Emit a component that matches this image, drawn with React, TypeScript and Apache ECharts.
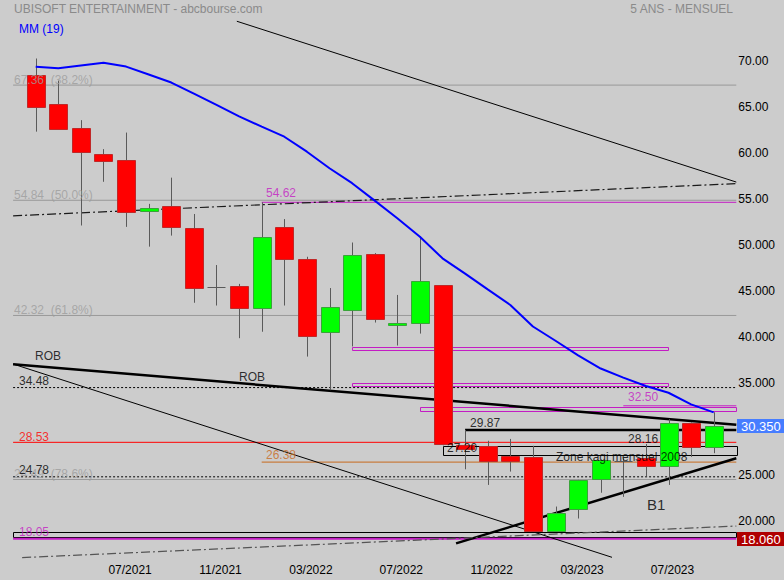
import React, { useEffect, useRef } from "react";
import * as echarts from "echarts";

// Category axis: one padding month on each side of the 31 monthly candles
const months = [
  "02/2021", "03/2021", "04/2021", "05/2021", "06/2021", "07/2021", "08/2021", "09/2021", "10/2021", "11/2021", "12/2021",
  "01/2022", "02/2022", "03/2022", "04/2022", "05/2022", "06/2022", "07/2022", "08/2022", "09/2022", "10/2022", "11/2022", "12/2022",
  "01/2023", "02/2023", "03/2023", "04/2023", "05/2023", "06/2023", "07/2023", "08/2023", "09/2023", "10/2023",
];
const shownMonths = ["07/2021", "11/2021", "03/2022", "07/2022", "11/2022", "03/2023", "07/2023"];

// Monthly OHLC, 03/2021 .. 09/2023
const opens = [68.45, 65.3, 62.65, 59.85, 59.2, 53.6, 54.2, 51.8, 45.45, 45.5, 43.1, 51.9, 48.45, 40.5, 42.9, 48.95, 41.5, 41.45, 45.6, 28.2, 28.15, 27.05, 26.9, 18.9, 21.25, 24.55, 26.45, 26.8, 25.9, 30.65, 28.1];
const closes = [64.95, 62.55, 60.05, 59.05, 53.6, 53.95, 51.9, 45.25, 45.45, 43.1, 50.8, 48.4, 40.1, 43.25, 48.85, 41.9, 41.55, 46.05, 28.35, 27.75, 26.55, 26.55, 18.9, 20.9, 24.45, 26.6, 26.45, 25.9, 30.6, 28.0, 30.35];
const highs = [70.25, 67.85, 63.55, 60.4, 62.2, 54.45, 57.3, 53.35, 47.8, 45.75, 54.62, 52.8, 48.7, 45.3, 50.25, 49.1, 44.55, 50.9, 45.6, 29.87, 28.7, 28.9, 28.15, 21.55, 24.45, 26.65, 26.8, 28.35, 31.05, 30.7, 31.8];
const lows = [62.3, 62.55, 52.1, 56.85, 51.95, 49.8, 51.0, 43.7, 43.4, 39.85, 40.55, 43.4, 37.85, 34.2, 38.95, 41.55, 39.05, 40.35, 28.2, 25.6, 23.9, 25.35, 18.8, 18.8, 20.25, 23.05, 22.6, 24.85, 23.9, 26.95, 27.35];

// MM (19)
const ma19 = [69.36, 69.18, 69.49, 69.79, 69.37, 68.51, 67.64, 66.43, 65.2, 63.97, 62.84, 61.75, 60.12, 58.32, 56.7, 54.8, 52.88, 50.88, 48.53, 46.87, 45.15, 43.46, 41.12, 39.57, 37.98, 36.55, 35.56, 34.65, 33.92, 32.66, 31.79];

// Fibonacci retracements
const fibLevels = [67.36, 54.84, 42.32, 24.49];
const fibTexts = ["67.36  (38.2%)", "54.84  (50.0%)", "42.32  (61.8%)", "24.49  (78.6%)"];

// Horizontal levels (value, start index on the month axis)
const dottedLevels = [34.48, 24.78];
const redLevel = 28.53;
const magentaLevel = 18.05;
const orangeLevel = 26.38;
const orangeStart = 11;
const highLevel = 54.62;
const highStart = 11;
const level3250 = 32.5;
const level3250Start = 27;
const level2987 = 29.87;
const level2987Start = 20;

// Trend lines [monthIndex, value]
const robThick = [[0, 37.02], [32, 30.44]];
const robThin = [[0, 37.04], [26.5, 16.03]];
const lineB1 = [[19.6, 17.55], [32, 26.8]];
const lineTop = [[9.9, 74.3], [32, 56.82]];
const channelUp = [[0, 53.15], [32, 56.65]];
const channelLow = [[0.4, 16.0], [32, 19.43]];

// Zones [x0, x1, low, high]
const blackZones = [[0, 32, 18.25, 18.75], [19, 32, 27.2, 28.16]];
const magentaZones = [[15, 29, 38.6, 38.93], [15, 29, 34.62, 34.95], [18, 32, 31.85, 32.33]];

// Price tags on the right axis
const priceTags = [30.35, 18.06];
const priceTagColors = ["#467dff", "#b00000"];

// Annotations [monthIndex, value, text]
const blackNotes = [
  [0.97, 37.91, "ROB"],
  [10.0, 35.68, "ROB"],
  [0.26, 35.2, "34.48"],
  [0.26, 25.52, "24.78"],
  [20.22, 30.63, "29.87"],
  [19.2, 27.91, "27.20"],
  [27.21, 28.89, "28.16"],
  [24.02, 26.94, "Zone kagi mensuel 2008"],
];
const b1Note = [28.05, 21.72, "B1"];
const redNotes = [[0.26, 29.16, "28.53"]];
const magentaNotes = [[0.26, 18.78, "18.05"], [11.19, 55.58, "54.62"], [27.21, 33.46, "32.50"]];
const orangeNotes = [[11.19, 27.15, "26.38"]];

const FONT = "'Liberation Sans', Arial, sans-serif";
const MAGENTA = "#c41cc4";
const ORANGE = "#c86a1e";

export default function App() {
  const ref = useRef<HTMLDivElement>(null);
  useEffect(() => {
    if (!ref.current) return;
    const chart = echarts.init(ref.current, undefined, { renderer: "svg" });

    const candleData = opens.map((o, i) => [i + 1, o, closes[i], lows[i], highs[i]]);
    const maData = ma19.map((v, i) => [i + 1, v]);

    const seg = (pts: number[][], color: string, width: number, type: any, z = 2) => ({
      type: "line",
      xAxisIndex: 1,
      yAxisIndex: 0,
      data: pts,
      symbol: "none",
      silent: true,
      z,
      lineStyle: { color, width, type },
    });
    const hline = (v: number, x0: number, color: string, width: number, type: any) =>
      seg([[x0, v], [32, v]], color, width, type);

    const zones = (list: number[][], color: string) => ({
      type: "custom",
      xAxisIndex: 1,
      yAxisIndex: 0,
      silent: true,
      z: 2,
      data: list,
      renderItem: (params: any, api: any) => {
        const a = api.coord([api.value(0), api.value(3)]);
        const b = api.coord([api.value(1), api.value(2)]);
        return {
          type: "rect",
          shape: { x: Math.round(a[0]) + 0.5, y: Math.round(a[1]) + 0.5, width: Math.round(b[0] - a[0]), height: Math.round(b[1] - a[1]) },
          style: { fill: "none", stroke: color, lineWidth: 1 },
        };
      },
    });

    const notes = (list: any[], color: string, size: number) => ({
      type: "scatter",
      xAxisIndex: 1,
      yAxisIndex: 0,
      symbolSize: 0,
      silent: true,
      z: 10,
      data: list.map((n) => ({ value: [n[0], n[1]], name: n[2] })),
      label: {
        show: true,
        position: "right",
        distance: 0,
        formatter: (p: any) => p.name,
        color,
        fontSize: size,
        fontFamily: FONT,
      },
    });

    const series: any[] = [];
    fibLevels.forEach((v) => series.push(hline(v, 0, "#999999", 1, "solid")));
    series.push(notes(fibLevels.map((v, i) => [0.04, v + 0.6, fibTexts[i]]), "#9c9c9c", 12));
    dottedLevels.forEach((v) => series.push(hline(v, 0, "#000000", 1, [2, 2])));
    series.push(hline(redLevel, 0, "#ff0000", 1, "solid"));
    series.push(hline(magentaLevel, 0, MAGENTA, 2, "solid"));
    series.push(hline(orangeLevel, orangeStart, ORANGE, 1, "solid"));
    series.push(hline(highLevel, highStart, MAGENTA, 1, "solid"));
    series.push(hline(level3250, level3250Start, MAGENTA, 1, "solid"));
    series.push(hline(level2987, level2987Start, "#000000", 2.5, "solid"));
    series.push(seg(robThick, "#000000", 2.5, "solid"));
    series.push(seg(robThin, "#000000", 1, "solid"));
    series.push(seg(lineB1, "#000000", 2.5, "solid"));
    series.push(seg(lineTop, "#000000", 1, "solid"));
    series.push(seg(channelUp, "#1a1a1a", 1.2, [9, 3, 2, 3]));
    series.push(seg(channelLow, "#555555", 1.2, [9, 3, 2, 3]));
    series.push(zones(blackZones, "#000000"));
    series.push(zones(magentaZones, MAGENTA));

    series.push({
      type: "custom",
      xAxisIndex: 0,
      yAxisIndex: 0,
      z: 5,
      silent: true,
      data: candleData,
      encode: { x: 0, y: [1, 2, 3, 4] },
      renderItem: (params: any, api: any) => {
        const x = api.value(0);
        const o = api.value(1);
        const c = api.value(2);
        const l = api.value(3);
        const h = api.value(4);
        const pO = api.coord([x, o]);
        const pC = api.coord([x, c]);
        const pL = api.coord([x, l]);
        const pH = api.coord([x, h]);
        const cx = Math.round(pO[0]) + 0.5;
        const w = 18;
        const children: any[] = [
          { type: "line", shape: { x1: cx, y1: pH[1], x2: cx, y2: pL[1] }, style: { stroke: "#5a5a5a", lineWidth: 1 } },
        ];
        if (o === c) {
          children.push({ type: "line", shape: { x1: cx - w / 2, y1: Math.round(pO[1]) + 0.5, x2: cx + w / 2, y2: Math.round(pO[1]) + 0.5 }, style: { stroke: "#5a5a5a", lineWidth: 1 } });
        } else {
          const up = c > o;
          const top = Math.min(pO[1], pC[1]);
          const hgt = Math.max(Math.abs(pO[1] - pC[1]), 2);
          children.push({
            type: "rect",
            shape: { x: cx - w / 2, y: Math.round(top) + 0.5, width: w, height: Math.round(hgt) },
            style: { fill: up ? "#00ff00" : "#ff0000", stroke: up ? "#3aa33a" : "#c02828", lineWidth: 1 },
          });
        }
        return { type: "group", children };
      },
    });

    series.push({
      type: "line",
      xAxisIndex: 0,
      yAxisIndex: 0,
      data: maData,
      symbol: "none",
      silent: true,
      z: 6,
      lineStyle: { color: "#0000ff", width: 2 },
    });

    series.push(notes(blackNotes, "#000000", 12));
    series.push(notes([b1Note], "#000000", 15));
    series.push(notes(redNotes, "#ff0000", 12));
    series.push(notes(magentaNotes, MAGENTA, 12));
    series.push(notes(orangeNotes, ORANGE, 12));

    chart.setOption({
      animation: false,
      backgroundColor: "#cccccc",
      grid: { left: 13.1, right: 47.7, top: 0, bottom: 13.2, containLabel: false },
      xAxis: [
        {
          type: "category",
          data: months,
          boundaryGap: false,
          axisLine: { show: false },
          axisTick: { show: false },
          splitLine: { show: false },
          axisLabel: {
            interval: (idx: number) => shownMonths.includes(months[idx]),
            color: "#000000",
            fontSize: 12,
            fontFamily: FONT,
            margin: -3,
            padding: [0, 0, 0, 8],
          },
        },
        { type: "value", min: 0, max: 32, show: false },
      ],
      yAxis: [
        {
          type: "value",
          position: "right",
          min: 15,
          max: 76.61,
          interval: 5,
          axisLine: { show: false },
          axisTick: { show: false },
          splitLine: { show: false },
          axisLabel: {
            showMaxLabel: false,
            color: "#000000",
            fontSize: 12,
            fontFamily: FONT,
            margin: 2,
            padding: [0, 0, 6, 0],
            formatter: (v: number) => (v < 20 || v > 70 || v === 30 ? "" : v >= 55 ? v.toFixed(2) : v.toFixed(3)),
          },
        },
      ],
      graphic: [
        { type: "text", x: 14, y: 9, style: { text: "UBISOFT ENTERTAINMENT - abcbourse.com", fill: "#8a8a8a", font: `12px ${FONT}`, textVerticalAlign: "middle" } },
        { type: "text", x: 733, y: 9, style: { text: "5 ANS - MENSUEL", fill: "#8a8a8a", font: `12px ${FONT}`, textAlign: "right", textVerticalAlign: "middle" } },
        { type: "text", x: 19, y: 29, style: { text: "MM (19)", fill: "#0000ff", font: `12px ${FONT}`, textVerticalAlign: "middle" } },
      ],
      series,
    });

    // Price tags placed through the y axis scale
    const tags: any[] = [];
    priceTags.forEach((v, i) => {
      const y = chart.convertToPixel({ yAxisIndex: 0 }, v) as number;
      tags.push({
        type: "rect",
        z: 100,
        shape: { x: 737, y: Math.round(y) - 7, width: 47, height: 14 },
        style: { fill: priceTagColors[i] },
      });
      tags.push({
        type: "text",
        z: 101,
        x: 741,
        y: Math.round(y),
        style: { text: v.toFixed(3), fill: "#ffffff", font: `13px ${FONT}`, textVerticalAlign: "middle" },
      });
    });
    chart.setOption({
      graphic: [
        { type: "text", x: 14, y: 9, style: { text: "UBISOFT ENTERTAINMENT - abcbourse.com", fill: "#8a8a8a", font: `12px ${FONT}`, textVerticalAlign: "middle" } },
        { type: "text", x: 733, y: 9, style: { text: "5 ANS - MENSUEL", fill: "#8a8a8a", font: `12px ${FONT}`, textAlign: "right", textVerticalAlign: "middle" } },
        { type: "text", x: 19, y: 29, style: { text: "MM (19)", fill: "#0000ff", font: `12px ${FONT}`, textVerticalAlign: "middle" } },
        ...tags,
      ],
    });
    return () => chart.dispose();
  }, []);
  return <div ref={ref} style={{ position: "absolute", left: 0, top: 0, width: 784, height: 580 }} />;
}
